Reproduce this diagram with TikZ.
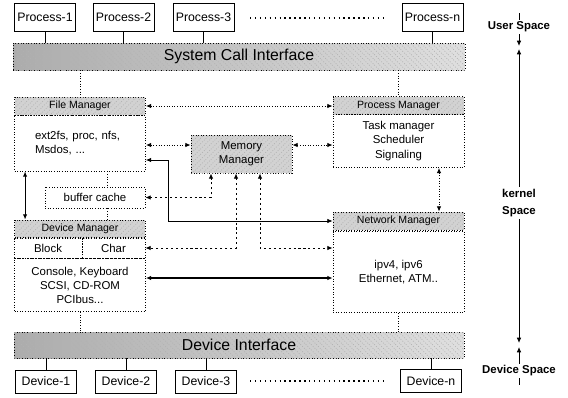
\documentclass[tikz,border=0pt]{standalone}
\usepackage{fontspec}
\setmainfont{Liberation Sans}
\usetikzlibrary{arrows.meta,patterns,calc}

\begin{document}
\begin{tikzpicture}[x=0.02cm,y=-0.02cm,>={Latex[length=3pt,width=2.6pt]},
  procbox/.style={draw,line width=0.5pt,inner sep=0pt,minimum width=1.22cm,minimum height=0.56cm,font=\fontsize{7}{8}\selectfont},
  devbox/.style={procbox,minimum height=0.46cm},
  barbox/.style={draw,densely dotted,line width=0.5pt,inner sep=0pt,left color=gray!65,right color=gray!25,postaction={pattern=north west lines,pattern color=gray!60},font=\fontsize{9}{10}\selectfont},
  hdrbox/.style={draw,densely dotted,line width=0.5pt,inner sep=0pt,fill=gray!35,postaction={pattern=north east lines,pattern color=gray!60},minimum width=2.62cm,minimum height=0.36cm,font=\fontsize{6}{7}\selectfont},
  bodybox/.style={draw,densely dotted,line width=0.5pt,inner sep=0pt,minimum width=2.62cm,align=center,font=\fontsize{6.5}{8}\selectfont},
  spacelabel/.style={inner sep=1pt,align=center,font=\fontsize{6.5}{9.5}\selectfont\bfseries},
  dotlink/.style={densely dotted,line width=0.5pt},
  dashlink/.style={dash pattern=on 1.2pt off 1.6pt,line width=0.5pt},
  solidlink/.style={line width=0.6pt},
  dotrow/.style={line width=0.8pt,dash pattern=on 0.8pt off 2pt}]
\useasboundingbox (0,0) rectangle (568,397);

% user space
\node[procbox] (process1) at (45,17.5) {Process-1};
\node[procbox] (process2) at (123.5,17.5) {Process-2};
\node[procbox] (process3) at (203.5,17.5) {Process-3};
\node[procbox] (processn) at (432.5,17) {Process-n};
\coordinate (pdotsL) at (250,18);
\coordinate (pdotsR) at (386,18);
\draw[dotrow] (pdotsL) -- (pdotsR);

\node[barbox,minimum width=9.04cm,minimum height=0.54cm] (sci) at (239,56.5) {System Call Interface};

% kernel
\node[hdrbox] (fmh) at (80,106) {File Manager};
\node[bodybox,minimum height=1.12cm,text width=1.8cm,align=left] (fmb) at (80,143) {ext2fs, proc, nfs,\\Msdos, ...};

\node[hdrbox] (pmh) at (398.5,105.5) {Process Manager};
\node[bodybox,minimum height=1.06cm] (pmb) at (398.5,141) {Task manager\\Scheduler\\Signaling};

\node[hdrbox,minimum width=2.02cm,minimum height=0.76cm,align=center,font=\fontsize{6.5}{8}\selectfont] (mm) at (241.5,154) {Memory\\Manager};

\node[bodybox,minimum width=2cm,minimum height=0.42cm] (bc) at (95,197.5) {buffer cache};

\node[hdrbox] (dmh) at (80,229) {Device Manager};
\node[bodybox,minimum width=1.36cm,minimum height=0.42cm] (dmblock) at (48,248) {Block};
\node[bodybox,minimum width=1.26cm,minimum height=0.42cm] (dmchar) at (113.5,248) {Char};
\node[bodybox,minimum height=1.06cm] (dmb) at (80,285) {Console, Keyboard\\SCSI, CD-ROM\\PCIbus...};

\node[hdrbox] (nmh) at (398.5,221) {Network Manager};
\node[bodybox,minimum height=1.62cm] (nmb) at (398.5,272) {ipv4, ipv6\\Ethernet, ATM..};

\node[barbox,minimum width=9cm,minimum height=0.52cm] (di) at (239,345) {Device Interface};

% device space
\node[devbox] (device1) at (46,381.5) {Device-1};
\node[devbox] (device2) at (126,381.5) {Device-2};
\node[devbox] (device3) at (206,381.5) {Device-3};
\node[devbox] (devicen) at (431,381) {Device-n};
\coordinate (ddotsL) at (250,381);
\coordinate (ddotsR) at (386,381);
\draw[dotrow] (ddotsL) -- (ddotsR);

% space labels
\node[spacelabel] (user) at (519,27) {User Space};
\node[spacelabel] (kernel) at (519,203) {kernel\\Space};
\node[spacelabel] (devspace) at (519,371) {Device Space};

% helper points
\coordinate (bctop) at ($(bc.north)+(12,0)$);
\coordinate (bcbot) at ($(bc.south)+(12,0)$);
\coordinate (mmA) at ($(mm.south)+(-30.5,0)$);
\coordinate (mmB) at ($(mm.south)+(-5.5,0)$);
\coordinate (mmC) at ($(mm.south)+(18.5,0)$);
\coordinate (fmnet) at ($(fmb.east)+(0,17)$);
\coordinate (fmbend) at ($(fmb.east)+(22,0)$);
\coordinate (dmnet) at ($(dmb.east)+(0,-7)$);
\coordinate (fmdm) at ($(fmb.south west)+(11,0)$);
\coordinate (pmnm) at ($(pmb.south)+(40.5,0)$);
\coordinate (userend) at (519,46);
\coordinate (kernelup) at (519,49);
\coordinate (kerneldown) at (519,343);
\coordinate (devup) at (519,347);

% plain lines
\draw[line width=0.5pt] (process1.south) -- (process1.south |- sci.north);
\draw[line width=0.5pt] (process2.south) -- (process2.south |- sci.north);
\draw[line width=0.5pt] (process3.south) -- (process3.south |- sci.north);
\draw[line width=0.5pt] (processn.south) -- (processn.south |- sci.north);
\draw[line width=0.5pt] (device1.north) -- (device1.north |- di.south);
\draw[line width=0.5pt] (device2.north) -- (device2.north |- di.south);
\draw[line width=0.5pt] (device3.north) -- (device3.north |- di.south);
\draw[line width=0.5pt] (devicen.north) -- (devicen.north |- di.south);
\draw[dotlink] (sci.south -| fmh.north) -- (fmh.north);
\draw[dotlink] (sci.south -| pmh.north) -- (pmh.north);
\draw[dotlink] (bctop |- fmb.south) -- (bctop);
\draw[dotlink] (bcbot) -- (bcbot |- dmh.north);
\draw[dotlink] (dmb.south) -- (dmb.south |- di.north);
\draw[dotlink] (nmb.south) -- (nmb.south |- di.north);

% arrows
\draw[dotlink,<->] (fmh.east) -- (fmh.east -| pmh.west);
\draw[dotlink,<->] (mm.170 -| fmb.east) -- (mm.170);
\draw[dotlink,<->] (mm.10) -- (mm.10 -| pmb.west);
\draw[solidlink,line width=0.4pt,<->] (fmnet) -| (fmbend |- nmh.west) -- (nmh.west);
\draw[dashlink,<->] (bc.east) -| (mmA);
\draw[dashlink,<->] (mmB) |- (dmchar.east);
\draw[dashlink,<->] (mmC) |- (dmchar.east -| nmb.west);
\draw[solidlink,<->] (dmnet) -- (dmnet -| nmb.west);
\draw[solidlink,<->] (fmdm) -- (fmdm |- dmh.north);
\draw[dotlink,<->] (pmnm) -- (pmnm |- nmh.north);

% space borders
\draw[line width=0.5pt] (user.north) -- ++(0,-7);
\draw[line width=0.5pt,->] (user.south) -- (userend);
\draw[line width=0.5pt,->] (kernel.north) -- (kernelup);
\draw[line width=0.5pt,->] (kernel.south) -- (kerneldown);
\draw[line width=0.5pt,->] (devspace.north) -- (devup);
\draw[line width=0.5pt] (devspace.south) -- ++(0,7);
\end{tikzpicture}
\end{document}
